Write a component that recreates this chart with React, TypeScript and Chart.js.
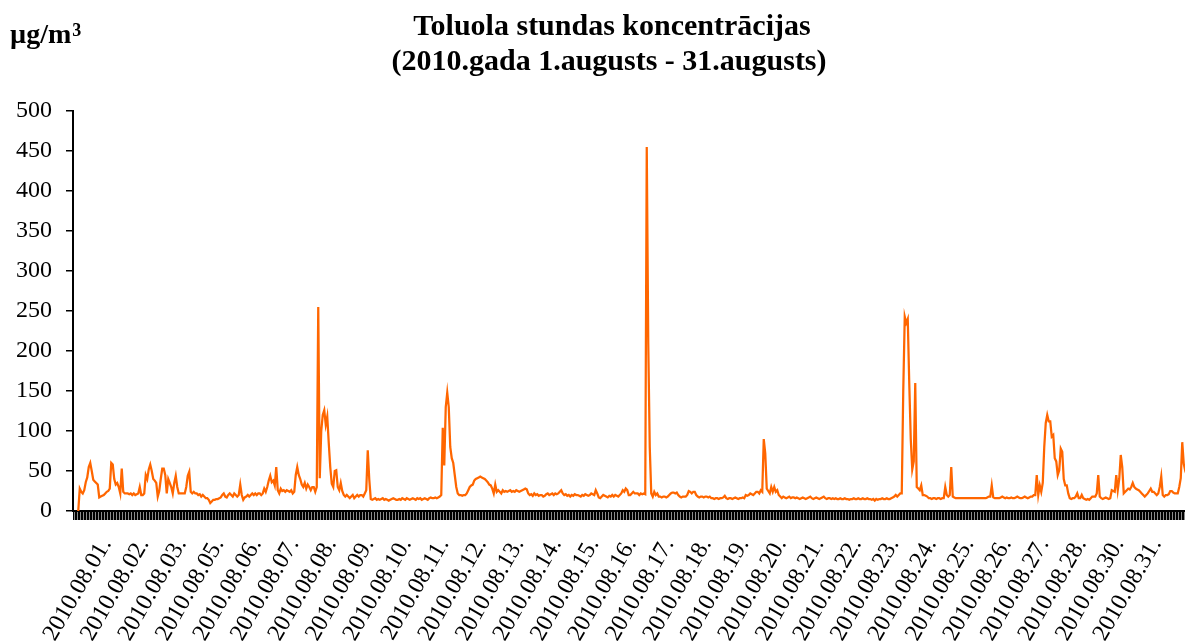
import React, { useEffect, useRef } from 'react';
import { Chart, registerables } from 'chart.js';

Chart.register(...registerables);

// Hourly toluene concentrations (µg/m³), one array of 24 hourly values per day
const d01 = [null, null, null, 0, 28, 24, 22, 26, 36, 42, 55, 60, 50, 39, 37, 35, 33, 17, 18, 19, 20, 22, 24, 25];
const d02 = [28, 60, 58, 40, 33, 35, 30, 22, 53, 24, 22, 22, 22, 21, 22, 20, 22, 20, 21, 22, 30, 20, 20, 22];
const d03 = [45, 40, 52, 58, 50, 40, 38, 35, 18, 25, 40, 53, 53, 45, 22, 40, 35, 30, 22, 35, 44, 30, 22, 22];
const d04 = [22, 22, 22, 30, 44, 49, 24, 22, 24, 22, 22, 20, 21, 18, 20, 18, 16, 16, 14, 10, 12, 14, 14, 15];
const d05 = [15, 16, 17, 20, 22, 18, 17, 20, 22, 20, 18, 22, 20, 18, 20, 33, 20, 14, 17, 18, 20, 18, 20, 22];
const d06 = [20, 22, 20, 22, 22, 20, 22, 28, 24, 30, 38, 44, 36, 38, 32, 55, 26, 22, 28, 25, 26, 24, 26, 25];
const d07 = [24, 26, 22, 24, 45, 55, 45, 40, 33, 30, 35, 28, 33, 30, 26, 30, 30, 24, 30, 255, 41, 100, 120, 126];
const d08 = [108, 118, 85, 55, 34, 30, 50, 51, 30, 26, 35, 25, 20, 18, 20, 18, 16, 18, 20, 16, 18, 20, 18, 20];
const d09 = [20, 18, 22, 26, 76, 40, 15, 14, 15, 16, 14, 15, 14, 15, 16, 14, 15, 14, 13, 14, 15, 16, 15, 14];
const d10 = [14, 15, 14, 16, 15, 14, 16, 15, 14, 15, 16, 15, 14, 16, 15, 16, 14, 15, 16, 15, 14, 16, 17, 16];
const d11 = [16, 17, 16, 17, 18, 20, 104, 57, 130, 148, 130, 80, 66, 60, 45, 30, 22, 20, 20, 19, 20, 20, 22, 26];
const d12 = [30, 32, 33, 38, 40, 41, 42, 43, 42, 41, 40, 38, 36, 33, 32, 28, 22, 33, 24, 26, 24, 22, 26, 24];
const d13 = [25, 24, 25, 26, 24, 25, 24, 26, 25, 24, 25, 26, 27, 28, 27, 22, 20, 21, 19, 22, 20, 21, 19, 20];
const d14 = [20, 18, 19, 21, 22, 20, 21, 22, 20, 22, 21, 22, 24, 26, 22, 20, 21, 19, 20, 18, 20, 19, 21, 20];
const d15 = [20, 19, 18, 20, 19, 21, 20, 19, 20, 22, 21, 20, 26, 22, 17, 16, 18, 20, 19, 18, 17, 19, 18, 20];
const d16 = [18, 20, 19, 18, 20, 22, 26, 24, 28, 26, 20, 20, 22, 24, 22, 22, 22, 20, 22, 21, 22, 21, 455, 210];
const d17 = [80, 22, 18, 24, 20, 22, 18, 18, 17, 18, 18, 17, 18, 20, 22, 23, 23, 22, 23, 20, 18, 17, 18, 18];
const d18 = [18, 20, 25, 24, 22, 24, 24, 20, 18, 17, 18, 18, 17, 18, 18, 17, 18, 16, 16, 15, 16, 16, 15, 16];
const d19 = [16, 17, 19, 16, 15, 16, 16, 15, 16, 17, 16, 15, 16, 16, 17, 16, 20, 19, 20, 22, 21, 20, 22, 24];
const d20 = [24, 22, 26, 24, 90, 72, 28, 25, 22, 30, 24, 30, 24, 26, 20, 18, 16, 18, 17, 16, 17, 18, 16, 17];
const d21 = [17, 16, 17, 16, 15, 16, 17, 16, 15, 16, 17, 18, 16, 15, 16, 17, 16, 15, 16, 17, 18, 16, 15, 16];
const d22 = [16, 15, 16, 15, 16, 15, 15, 16, 15, 15, 16, 15, 15, 14, 15, 15, 16, 15, 15, 16, 15, 15, 16, 15];
const d23 = [15, 16, 15, 15, 14, 15, 13, 15, 14, 15, 15, 16, 15, 15, 16, 15, 15, 16, 17, 18, 20, 18, 20, 22];
const d24 = [22, 150, 243, 235, 240, 160, 90, 52, 62, 160, 30, 28, 26, 32, 20, 20, 19, 18, 16, 16, 15, 16, 16, 15];
const d25 = [16, 16, 15, 16, 16, 30, 20, 18, 20, 55, 18, 17, 16, 16, 16, 16, 16, 16, 16, 16, 16, 16, 16, 16];
const d26 = [16, 16, 16, 16, 16, 16, 16, 16, 16, 17, 18, 18, 32, 17, 16, 16, 16, 16, 17, 18, 17, 16, 17, 16];
const d27 = [16, 17, 16, 16, 17, 18, 17, 16, 16, 17, 18, 17, 16, 17, 18, 18, 20, 20, 45, 20, 32, 24, 35, 80];
const d28 = [110, 120, 112, 112, 93, 95, 66, 62, 45, 51, 78, 74, 40, 32, 32, 22, 16, 15, 16, 16, 18, 22, 16, 16];
const d29 = [20, 16, 15, 14, 15, 14, 16, 18, 18, 18, 22, 45, 18, 16, 15, 16, 17, 16, 15, 16, 26, 25, 24, 45];
const d30 = [26, 40, 70, 55, 22, 24, 26, 28, 27, 30, 35, 30, 28, 27, 26, 24, 22, 20, 18, 20, 22, 25, 28, 24];
const d31 = [24, 22, 20, 22, 30, 43, 20, 18, 20, 20, 21, 25, 25, 23, 22, 22, 22, 30, 41, 86, 59, 50, 45, 40];

const DAY_VALUES = [
  d01, d02, d03, d04, d05, d06, d07, d08, d09, d10, d11, d12, d13, d14, d15, d16,
  d17, d18, d19, d20, d21, d22, d23, d24, d25, d26, d27, d28, d29, d30, d31,
];
const DAYS = [
  '01', '02', '03', '04', '05', '06', '07', '08', '09', '10', '11', '12', '13', '14', '15', '16',
  '17', '18', '19', '20', '21', '22', '23', '24', '25', '26', '27', '28', '29', '30', '31',
];

// Every hourly category carries its date text; only every 25th one is printed (as in the source)
const CATEGORIES: string[] = DAYS.flatMap((d) => Array(24).fill(`2010.08.${d}.`));
const VALUES: (number | null)[] = DAY_VALUES.flat();
const LABEL_FIRST_INDEX = 21;
const LABEL_STEP = 25;

const TITLE_LINES = ['Toluola stundas koncentrācijas', '(2010.gada 1.augusts - 31.augusts)'];
const UNIT_TEXT = 'µg/m';
const UNIT_SUP = '3';
const Y_MIN = 0;
const Y_MAX = 500;
const Y_STEP = 50;

const SERIF = "'Liberation Serif', 'Times New Roman', serif";

const textPlugin = {
  id: 'textPlugin',
  afterDraw(chart: any) {
    const ctx = chart.ctx;
    ctx.save();
    ctx.fillStyle = '#000';
    ctx.textBaseline = 'alphabetic';
    ctx.textAlign = 'center';
    ctx.font = `bold 30px ${SERIF}`;
    ctx.fillText(TITLE_LINES[0], 612, 35);
    ctx.fillText(TITLE_LINES[1], 609, 70);
    ctx.textAlign = 'left';
    ctx.font = `bold 28px ${SERIF}`;
    ctx.fillText(UNIT_TEXT, 10, 43);
    const w = ctx.measureText(UNIT_TEXT).width;
    ctx.font = `bold 18px ${SERIF}`;
    ctx.fillText(UNIT_SUP, 10 + w + 1, 36);
    ctx.restore();
  },
};

export default function App() {
  const canvasRef = useRef<HTMLCanvasElement | null>(null);

  useEffect(() => {
    const canvas = canvasRef.current;
    if (!canvas) return;
    const chart = new Chart(canvas, {
      type: 'line',
      data: {
        labels: CATEGORIES,
        datasets: [
          {
            data: VALUES,
            borderColor: '#FF6600',
            backgroundColor: '#FF6600',
            borderWidth: 2.25,
            pointRadius: 0,
            pointHoverRadius: 0,
            tension: 0,
            fill: false,
            spanGaps: false,
          },
        ],
      },
      options: {
        animation: false,
        responsive: false,
        maintainAspectRatio: false,
        devicePixelRatio: 1,
        events: [],
        layout: { padding: { left: 0, right: 11, top: 111, bottom: 0 } },
        plugins: {
          legend: { display: false },
          title: { display: false },
          tooltip: { enabled: false },
        },
        scales: {
          x: {
            type: 'category',
            offset: true,
            grid: {
              display: true,
              drawOnChartArea: false,
              drawTicks: true,
              tickLength: 9,
              color: '#000',
              lineWidth: 1.45,
              offset: false,
            },
            border: { display: true, color: '#000', width: 2 },
            ticks: {
              autoSkip: false,
              minRotation: 60,
              maxRotation: 60,
              padding: 13,
              labelOffset: 1,
              color: '#000',
              font: { family: SERIF, size: 24 },
              callback: (_v: any, idx: number) =>
                idx >= LABEL_FIRST_INDEX && (idx - LABEL_FIRST_INDEX) % LABEL_STEP === 0 ? CATEGORIES[idx] : '',
            },
            afterFit: (s: any) => {
              s.height = 131;
              s.paddingLeft = 0;
              s.paddingRight = 0;
            },
          },
          y: {
            min: Y_MIN,
            max: Y_MAX,
            ticks: {
              stepSize: Y_STEP,
              padding: 14,
              color: '#000',
              font: { family: SERIF, size: 24 },
            },
            grid: {
              display: true,
              drawOnChartArea: false,
              drawTicks: true,
              tickLength: 7,
              color: '#000',
              lineWidth: 1.5,
            },
            border: { display: true, color: '#000', width: 2 },
            afterFit: (s: any) => {
              s.width = 73;
            },
          },
        },
      },
      plugins: [textPlugin],
    });
    return () => chart.destroy();
  }, []);

  return (
    <div
      style={{
        position: 'fixed',
        left: 0,
        top: 0,
        width: 1185,
        height: 642,
        overflow: 'hidden',
        background: '#fff',
      }}
    >
      <canvas ref={canvasRef} width={1200} height={642} style={{ width: 1200, height: 642, display: 'block' }} />
    </div>
  );
}
